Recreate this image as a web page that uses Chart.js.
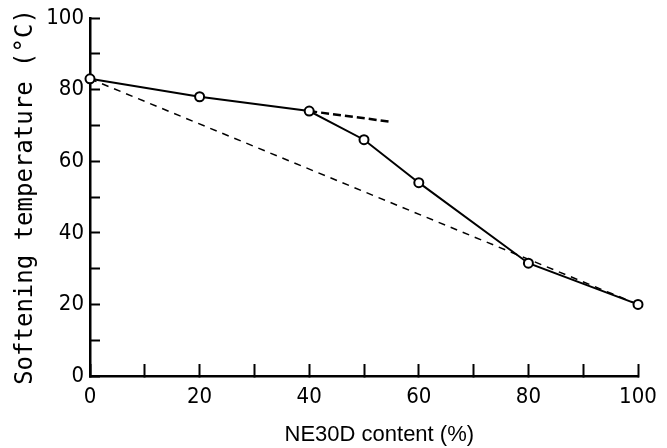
<!DOCTYPE html>
<html>
<head>
<meta charset="utf-8">
<script src="https://cdn.jsdelivr.net/npm/chart.js@4.4.1/dist/chart.umd.min.js"></script>
<style>
  html, body { margin: 0; padding: 0; background: #fff; }
  #wrap { width: 667px; height: 448px; }
</style>
</head>
<body>
<div id="wrap"><canvas id="chart" width="667" height="448"></canvas></div>
<script>
// NE30D content (%) vs softening temperature (°C)
const content = [0, 20, 40, 50, 60, 80, 100];
const softening = [83, 78, 74, 66, 54, 31.5, 20];

// straight dashed line between the two pure ends
const mixContent = [0, 100];
const mixSoftening = [83, 20];

// short dashed extension of the first branch
const extContent = [40, 55];
const extSoftening = [74, 71];

const xTicks = [0, 20, 40, 60, 80, 100];
const yTicks = [0, 20, 40, 60, 80, 100];

const pts = (xs, ys) => xs.map((x, i) => ({ x, y: ys[i] }));

const tickFont = { family: "'DejaVu Sans Condensed', 'Liberation Sans Narrow', sans-serif", size: 22, lineHeight: 1.2 };

new Chart(document.getElementById('chart'), {
  type: 'scatter',
  data: {
    datasets: [
      {
        data: pts(content, softening), showLine: true, order: 0,
        borderColor: '#000', borderWidth: 2,
        pointRadius: 4.5, pointBorderWidth: 2, pointBackgroundColor: '#fff', pointBorderColor: '#000',
        clip: false
      },
      {
        data: pts(mixContent, mixSoftening), showLine: true, order: 1,
        borderColor: '#000', borderWidth: 1.5, borderDash: [7, 6],
        pointRadius: 0, clip: false
      },
      {
        data: pts(extContent, extSoftening), showLine: true, order: 1,
        borderColor: '#000', borderWidth: 2.5, borderDash: [8, 4],
        pointRadius: 0, clip: false
      }
    ]
  },
  options: {
    responsive: false,
    animation: false,
    layout: { padding: { left: 0, right: 29, top: 18, bottom: 0 } },
    plugins: { legend: { display: false }, tooltip: { enabled: false } },
    scales: {
      x: {
        type: 'linear', min: 0, max: 100,
        afterFit: s => { s.height = 72; s.paddingLeft = 0; s.paddingRight = 0; },
        border: { color: '#000', width: 2.5 },
        grid: { drawOnChartArea: false, tickLength: -12, tickColor: '#000', tickWidth: 2 },
        ticks: {
          stepSize: 10, color: '#000', font: tickFont, padding: 20, maxRotation: 0,
          callback: v => xTicks.includes(v) ? String(v) : ''
        },
        title: {
          display: true, text: '     NE30D content (%)', color: '#000',
          font: { family: "'Liberation Sans', Arial, sans-serif", size: 22, lineHeight: 1.2 },
          padding: { top: 0, bottom: 0 }
        }
      },
      y: {
        type: 'linear', min: 0, max: 100,
        afterFit: s => { s.width = 90; s.paddingTop = 0; s.paddingBottom = 0; },
        border: { color: '#000', width: 2.5 },
        grid: { drawOnChartArea: false, tickLength: -10, tickColor: '#000', tickWidth: 2 },
        ticks: {
          stepSize: 10, color: '#000', font: tickFont, padding: 16,
          callback: v => yTicks.includes(v) ? String(v) : ''
        },
        title: {
          display: true, text: 'Softening temperature (°C)', color: '#000',
          font: { family: "'DejaVu Sans Mono', 'Liberation Mono', monospace", size: 24, lineHeight: 1.2 },
          padding: { top: 11, bottom: 0 }
        }
      }
    }
  }
});
</script>
</body>
</html>
